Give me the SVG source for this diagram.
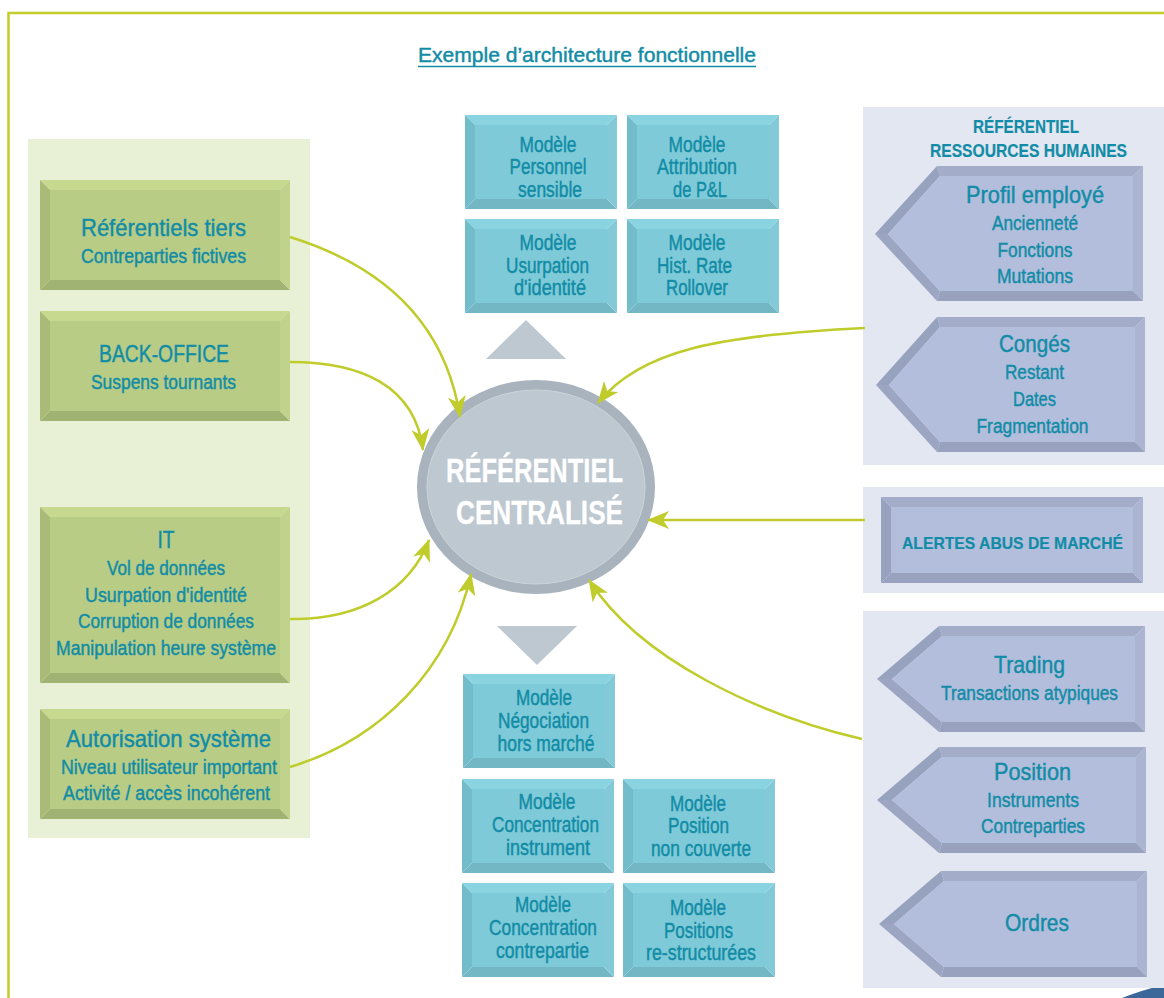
<svg xmlns="http://www.w3.org/2000/svg" xmlns:xlink="http://www.w3.org/1999/xlink" width="1164" height="998" viewBox="0 0 1164 998">
<style>
text{font-family:"Liberation Sans Narrow","Liberation Sans",Arial,sans-serif;fill:#128ca6;stroke:#128ca6;stroke-width:0.45;text-anchor:middle}
.t{font-size:24.5px}
.s{font-size:20px}
.m{font-size:21.5px}
.c{font-size:33px;font-weight:bold;fill:#ffffff;stroke:#ffffff;stroke-width:0.3}
.h{font-size:18px;font-weight:bold;stroke-width:0.2}
.gt{fill:#c6d98f}.gl{fill:#a9bc77}.gb{fill:#a0b372}.gr{fill:#bfd38c}.gf{fill:#b8cc85}
.ct{fill:#8ad3e0}.cl{fill:#72bccb}.cb{fill:#73b7c5}.cr{fill:#84c9d7}.cf{fill:#7ecad8}
.bt{fill:#a3adc9}.bl{fill:#97a2be}.bl2{fill:#9ca6c2}.bb{fill:#98a2be}.br{fill:#abb5d1}.bf{fill:#b3bedd}
.panel{fill:#e3e7f2}
.conn{fill:none;stroke:#bfcc2b;stroke-width:2.5}
</style>
<defs>
<marker id="arr" viewBox="0 0 22 18" refX="21" refY="9" markerWidth="22" markerHeight="18" markerUnits="userSpaceOnUse" orient="auto">
<path d="M22,9 L0,0 L6,9 L0,18 Z" fill="#bfcc2b"/>
</marker>
<g id="cbox">
<polygon class="ct" points="0,0 152,0 142,10 10,10"/>
<polygon class="cb" points="0,94 152,94 142,84 10,84"/>
<polygon class="cl" points="0,0 10,10 10,84 0,94"/>
<polygon class="cr" points="152,0 142,10 142,84 152,94"/>
<rect class="cf" x="10" y="10" width="132" height="74"/>
</g>
<g id="gbox">
<polygon class="gt" points="0,0 250,0 240,10 10,10"/>
<polygon class="gb" points="0,110 250,110 240,100 10,100"/>
<polygon class="gl" points="0,0 10,10 10,100 0,110"/>
<polygon class="gr" points="250,0 240,10 240,100 250,110"/>
<rect class="gf" x="10" y="10" width="230" height="90"/>
</g>
</defs>
<rect width="1164" height="998" fill="#ffffff"/>
<path d="M8.5,998 L8.5,13 L1164,13" fill="none" stroke="#c3cd2a" stroke-width="2.5"/>
<path d="M1122,998 Q1142,990 1164,985 L1164,998 Z" fill="#3b6898"/>

<g id="title">
<text x="587" y="62" style="font-size:21px" textLength="338" lengthAdjust="spacingAndGlyphs">Exemple d’architecture fonctionnelle</text>
<line x1="418" y1="66.5" x2="756" y2="66.5" stroke="#128ca6" stroke-width="1.5"/>
</g>

<rect x="28" y="139" width="282" height="699" fill="#e8f1d6"/>
<rect class="panel" x="863" y="107" width="301" height="358"/>
<rect class="panel" x="863" y="487" width="301" height="106"/>
<rect class="panel" x="863" y="611" width="301" height="377"/>

<g id="ref-tiers">
<use xlink:href="#gbox" x="40" y="180"/>
<text class="t" x="163.5" y="236" textLength="165" lengthAdjust="spacingAndGlyphs">Référentiels tiers</text>
<text class="s" x="163.5" y="263" textLength="165" lengthAdjust="spacingAndGlyphs">Contreparties fictives</text>
</g>
<g id="back-office">
<use xlink:href="#gbox" x="40" y="311"/>
<text class="t" x="164" y="362" textLength="130" lengthAdjust="spacingAndGlyphs">BACK-OFFICE</text>
<text class="s" x="163.5" y="389" textLength="145" lengthAdjust="spacingAndGlyphs">Suspens tournants</text>
</g>
<g id="it">
<polygon class="gt" points="40,507 290,507 280,517 50,517"/>
<polygon class="gb" points="40,683 290,683 280,673 50,673"/>
<polygon class="gl" points="40,507 50,517 50,673 40,683"/>
<polygon class="gr" points="290,507 280,517 280,673 290,683"/>
<rect class="gf" x="50" y="517" width="230" height="156"/>
<text class="t" x="166" y="548" textLength="17" lengthAdjust="spacingAndGlyphs">IT</text>
<text class="s" x="166" y="575" textLength="118" lengthAdjust="spacingAndGlyphs">Vol de données</text>
<text class="s" x="166" y="602" textLength="162" lengthAdjust="spacingAndGlyphs">Usurpation d'identité</text>
<text class="s" x="166" y="628" textLength="176" lengthAdjust="spacingAndGlyphs">Corruption de données</text>
<text class="s" x="166" y="655" textLength="220" lengthAdjust="spacingAndGlyphs">Manipulation heure système</text>
</g>
<g id="autorisation">
<use xlink:href="#gbox" x="40" y="709"/>
<text class="t" x="168.5" y="747" textLength="205" lengthAdjust="spacingAndGlyphs">Autorisation système</text>
<text class="s" x="169" y="774" textLength="216" lengthAdjust="spacingAndGlyphs">Niveau utilisateur important</text>
<text class="s" x="166.5" y="800" textLength="207" lengthAdjust="spacingAndGlyphs">Activité / accès incohérent</text>
</g>

<g id="m-personnel">
<use xlink:href="#cbox" x="465" y="115"/>
<text class="m" x="548" y="152" textLength="57" lengthAdjust="spacingAndGlyphs">Modèle</text>
<text class="m" x="548" y="174" textLength="77" lengthAdjust="spacingAndGlyphs">Personnel</text>
<text class="m" x="550" y="197" textLength="64" lengthAdjust="spacingAndGlyphs">sensible</text>
</g>
<g id="m-attribution">
<use xlink:href="#cbox" x="627" y="115"/>
<text class="m" x="697" y="152" textLength="57" lengthAdjust="spacingAndGlyphs">Modèle</text>
<text class="m" x="697" y="174" textLength="80" lengthAdjust="spacingAndGlyphs">Attribution</text>
<text class="m" x="700" y="197" textLength="54" lengthAdjust="spacingAndGlyphs">de P&amp;L</text>
</g>
<g id="m-usurpation">
<use xlink:href="#cbox" x="465" y="219"/>
<text class="m" x="548" y="250" textLength="57" lengthAdjust="spacingAndGlyphs">Modèle</text>
<text class="m" x="547.5" y="273" textLength="83" lengthAdjust="spacingAndGlyphs">Usurpation</text>
<text class="m" x="550" y="295" textLength="72" lengthAdjust="spacingAndGlyphs">d'identité</text>
</g>
<g id="m-hist">
<use xlink:href="#cbox" x="627" y="219"/>
<text class="m" x="697" y="250" textLength="57" lengthAdjust="spacingAndGlyphs">Modèle</text>
<text class="m" x="694.5" y="273" textLength="75" lengthAdjust="spacingAndGlyphs">Hist. Rate</text>
<text class="m" x="697" y="295" textLength="62" lengthAdjust="spacingAndGlyphs">Rollover</text>
</g>

<polygon id="tri-up" points="526,320 566,359 486,359" fill="#bec8d0"/>
<polygon id="tri-down" points="497,626 577,626 537,665" fill="#bec8d0"/>

<g id="m-negociation">
<use xlink:href="#cbox" x="463" y="674"/>
<text class="m" x="544" y="705" textLength="56" lengthAdjust="spacingAndGlyphs">Modèle</text>
<text class="m" x="543.5" y="728" textLength="91" lengthAdjust="spacingAndGlyphs">Négociation</text>
<text class="m" x="546" y="751" textLength="97" lengthAdjust="spacingAndGlyphs">hors marché</text>
</g>
<g id="m-conc-instrument">
<use xlink:href="#cbox" x="462" y="779"/>
<text class="m" x="547" y="809" textLength="57" lengthAdjust="spacingAndGlyphs">Modèle</text>
<text class="m" x="545.5" y="832" textLength="107" lengthAdjust="spacingAndGlyphs">Concentration</text>
<text class="m" x="548" y="855" textLength="84" lengthAdjust="spacingAndGlyphs">instrument</text>
</g>
<g id="m-position">
<use xlink:href="#cbox" x="623" y="779"/>
<text class="m" x="698" y="811" textLength="56" lengthAdjust="spacingAndGlyphs">Modèle</text>
<text class="m" x="698.5" y="833" textLength="61" lengthAdjust="spacingAndGlyphs">Position</text>
<text class="m" x="701" y="856" textLength="100" lengthAdjust="spacingAndGlyphs">non couverte</text>
</g>
<g id="m-conc-contrepartie">
<use xlink:href="#cbox" x="462" y="883"/>
<text class="m" x="543" y="912" textLength="56" lengthAdjust="spacingAndGlyphs">Modèle</text>
<text class="m" x="543" y="935" textLength="108" lengthAdjust="spacingAndGlyphs">Concentration</text>
<text class="m" x="542.5" y="958" textLength="93" lengthAdjust="spacingAndGlyphs">contrepartie</text>
</g>
<g id="m-positions">
<use xlink:href="#cbox" x="623" y="883"/>
<text class="m" x="698" y="915" textLength="56" lengthAdjust="spacingAndGlyphs">Modèle</text>
<text class="m" x="698.5" y="938" textLength="69" lengthAdjust="spacingAndGlyphs">Positions</text>
<text class="m" x="701" y="960" textLength="110" lengthAdjust="spacingAndGlyphs">re-structurées</text>
</g>

<g id="central">
<ellipse cx="536" cy="487" rx="119" ry="107" fill="#a9b3bd"/>
<ellipse cx="536" cy="487" rx="109" ry="97" fill="#bec8d1" stroke="#ccd4db" stroke-width="1"/>
<text class="c" x="534.5" y="482" textLength="177" lengthAdjust="spacingAndGlyphs">RÉFÉRENTIEL</text>
<text class="c" x="539.5" y="524" textLength="167" lengthAdjust="spacingAndGlyphs">CENTRALISÉ</text>
</g>

<g id="rh-heading">
<text class="h" x="1026" y="133" textLength="106" lengthAdjust="spacingAndGlyphs">RÉFÉRENTIEL</text>
<text class="h" x="1028.5" y="157" textLength="197" lengthAdjust="spacingAndGlyphs">RESSOURCES HUMAINES</text>
</g>
<g id="profil">
<polygon class="bt" points="937,166 1143,166 1133,176 940,176"/>
<polygon class="br" points="1143,166 1133,176 1133,291 1143,301"/>
<polygon class="bb" points="937,301 1143,301 1133,291 940,291"/>
<polygon class="bl" points="875,234 937,166 940,176 888,234"/>
<polygon class="bl2" points="875,234 888,234 940,291 937,301"/>
<polygon class="bf" points="888,234 940,176 1133,176 1133,291 940,291"/>
<text class="t" x="1035" y="203" textLength="138" lengthAdjust="spacingAndGlyphs">Profil employé</text>
<text class="s" x="1035" y="230" textLength="86" lengthAdjust="spacingAndGlyphs">Ancienneté</text>
<text class="s" x="1035" y="257" textLength="75" lengthAdjust="spacingAndGlyphs">Fonctions</text>
<text class="s" x="1035" y="283" textLength="76" lengthAdjust="spacingAndGlyphs">Mutations</text>
</g>
<g id="conges">
<polygon class="bt" points="937,317 1145,317 1135,327 940,327"/>
<polygon class="br" points="1145,317 1135,327 1135,442 1145,452"/>
<polygon class="bb" points="937,452 1145,452 1135,442 940,442"/>
<polygon class="bl" points="876,385 937,317 940,327 889,385"/>
<polygon class="bl2" points="876,385 889,385 940,442 937,452"/>
<polygon class="bf" points="889,385 940,327 1135,327 1135,442 940,442"/>
<text class="t" x="1034.5" y="352" textLength="71" lengthAdjust="spacingAndGlyphs">Congés</text>
<text class="s" x="1034.5" y="379" textLength="59" lengthAdjust="spacingAndGlyphs">Restant</text>
<text class="s" x="1034.5" y="406" textLength="43" lengthAdjust="spacingAndGlyphs">Dates</text>
<text class="s" x="1032.5" y="433" textLength="112" lengthAdjust="spacingAndGlyphs">Fragmentation</text>
</g>
<g id="alertes">
<polygon class="bt" points="881,497 1143,497 1133,507 891,507"/>
<polygon class="bb" points="881,583 1143,583 1133,573 891,573"/>
<polygon class="bl" points="881,497 891,507 891,573 881,583"/>
<polygon class="br" points="1143,497 1133,507 1133,573 1143,583"/>
<rect class="bf" x="891" y="507" width="242" height="66"/>
<text class="h" style="font-size:16.5px" x="1012.5" y="549" textLength="221" lengthAdjust="spacingAndGlyphs">ALERTES ABUS DE MARCHÉ</text>
</g>
<g id="trading">
<polygon class="bt" points="939,626 1145,626 1135,636 942,636"/>
<polygon class="br" points="1145,626 1135,636 1135,722 1145,732"/>
<polygon class="bb" points="939,732 1145,732 1135,722 942,722"/>
<polygon class="bl" points="877,679 939,626 942,636 892,679"/>
<polygon class="bl2" points="877,679 892,679 942,722 939,732"/>
<polygon class="bf" points="892,679 942,636 1135,636 1135,722 942,722"/>
<text class="t" x="1029.5" y="673" textLength="71" lengthAdjust="spacingAndGlyphs">Trading</text>
<text class="s" x="1029.5" y="700" textLength="177" lengthAdjust="spacingAndGlyphs">Transactions atypiques</text>
</g>
<g id="position">
<polygon class="bt" points="939,747 1146,747 1136,757 942,757"/>
<polygon class="br" points="1146,747 1136,757 1136,843 1146,853"/>
<polygon class="bb" points="939,853 1146,853 1136,843 942,843"/>
<polygon class="bl" points="877,800 939,747 942,757 892,800"/>
<polygon class="bl2" points="877,800 892,800 942,843 939,853"/>
<polygon class="bf" points="892,800 942,757 1136,757 1136,843 942,843"/>
<text class="t" x="1032.5" y="780" textLength="77" lengthAdjust="spacingAndGlyphs">Position</text>
<text class="s" x="1033" y="807" textLength="92" lengthAdjust="spacingAndGlyphs">Instruments</text>
<text class="s" x="1033" y="833" textLength="104" lengthAdjust="spacingAndGlyphs">Contreparties</text>
</g>
<g id="ordres">
<polygon class="bt" points="941,871 1147,871 1137,881 944,881"/>
<polygon class="br" points="1147,871 1137,881 1137,967 1147,977"/>
<polygon class="bb" points="941,977 1147,977 1137,967 944,967"/>
<polygon class="bl" points="879,924 941,871 944,881 894,924"/>
<polygon class="bl2" points="879,924 894,924 944,967 941,977"/>
<polygon class="bf" points="894,924 944,881 1137,881 1137,967 944,967"/>
<text class="t" x="1037" y="931" textLength="64" lengthAdjust="spacingAndGlyphs">Ordres</text>
</g>

<g id="connectors">
<path class="conn" marker-end="url(#arr)" d="M290,237 C380,265 445,320 460,417"/>
<path class="conn" marker-end="url(#arr)" d="M290,362 C360,362 415,385 423,450"/>
<path class="conn" marker-end="url(#arr)" d="M290,619 C360,620 410,590 429,540"/>
<path class="conn" marker-end="url(#arr)" d="M290,767 C380,740 450,670 471,574"/>
<path class="conn" marker-end="url(#arr)" d="M865,328 C720,335 640,350 598,403"/>
<path class="conn" marker-end="url(#arr)" d="M865,520 L648,520"/>
<path class="conn" marker-end="url(#arr)" d="M862,739 C760,715 640,660 589,580"/>
</g>
</svg>
